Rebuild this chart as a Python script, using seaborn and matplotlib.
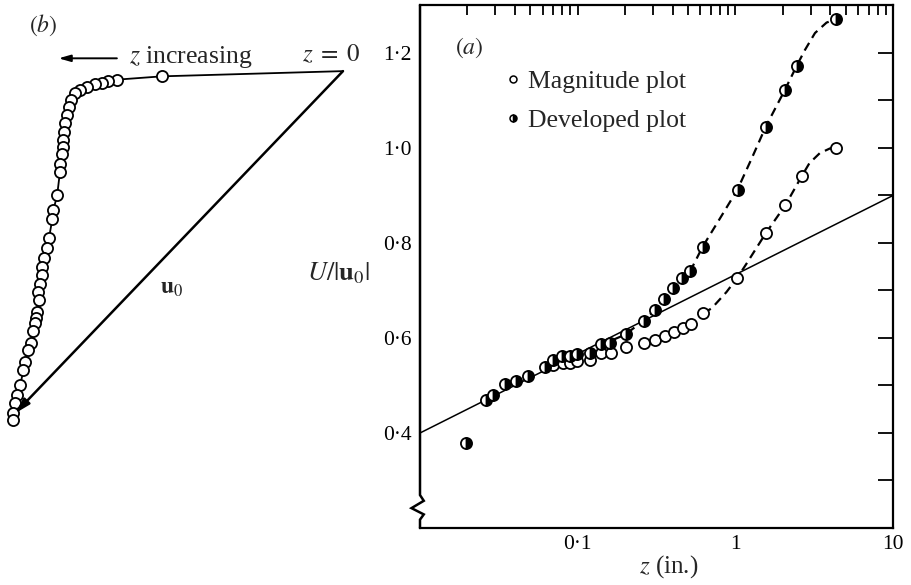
import numpy as np
import pandas as pd
import seaborn as sns
import matplotlib
matplotlib.use("Agg")
import matplotlib.pyplot as plt
from matplotlib.lines import Line2D
from matplotlib.ticker import FixedLocator, FuncFormatter, NullFormatter

# ---------------- data ----------------
# (a) velocity magnitude against height (log scale)
dev_z = [0.0196, 0.0262, 0.0292, 0.0346, 0.0404, 0.0486, 0.0621, 0.070, 0.079, 0.0893,
         0.0986, 0.1197, 0.140, 0.160, 0.202, 0.263, 0.309, 0.352, 0.403, 0.456,
         0.516, 0.621, 1.034, 1.556, 2.063, 2.45, 4.34]
dev_u = [0.378, 0.469, 0.480, 0.503, 0.510, 0.521, 0.538, 0.554, 0.562, 0.562,
         0.566, 0.569, 0.587, 0.589, 0.608, 0.636, 0.659, 0.682, 0.705, 0.726,
         0.742, 0.792, 0.912, 1.045, 1.122, 1.173, 1.271]

mag_z = [0.070, 0.081, 0.089, 0.099, 0.1197, 0.140, 0.162, 0.202, 0.263, 0.309,
         0.357, 0.407, 0.463, 0.523, 0.625, 1.03, 1.556, 2.08, 2.63, 4.34]
mag_u = [0.543, 0.548, 0.547, 0.552, 0.554, 0.569, 0.569, 0.582, 0.590, 0.596,
         0.604, 0.612, 0.620, 0.629, 0.652, 0.727, 0.820, 0.880, 0.940, 1.001]

# hand-drawn trend curves through each set
dev_curve_z = [0.14, 0.20, 0.26, 0.31, 0.35, 0.40, 0.46, 0.52, 0.62, 0.80, 1.03, 1.27,
               1.56, 2.06, 2.45, 2.76, 3.2, 3.79, 4.34]
dev_curve_u = [0.585, 0.607, 0.636, 0.659, 0.682, 0.705, 0.726, 0.742, 0.792, 0.852, 0.912,
               0.978, 1.045, 1.122, 1.173, 1.206, 1.242, 1.264, 1.271]
mag_curve_z = [0.625, 0.708, 0.88, 1.03, 1.18, 1.556, 2.08, 2.63, 2.95, 3.43, 3.98, 4.34]
mag_curve_u = [0.652, 0.6625, 0.697, 0.727, 0.757, 0.820, 0.880, 0.940, 0.968, 0.989, 0.999, 1.001]

# logarithmic law
log_z = [0.01, 10.0]
log_u = [0.40, 0.90]

# (b) hodograph, components in units of |u0|
hod_x = [-0.382, -0.477, -0.495, -0.509, -0.523, -0.539, -0.555, -0.565, -0.574, -0.577,
         -0.583, -0.586, -0.589, -0.590, -0.591, -0.593, -0.596, -0.597, -0.603, -0.611,
         -0.613, -0.620, -0.625, -0.631, -0.634, -0.636, -0.639, -0.643, -0.641, -0.645,
         -0.648, -0.650, -0.653, -0.659, -0.664, -0.671, -0.674, -0.681, -0.688, -0.692,
         -0.697, -0.696]
hod_y = [-0.011, -0.018, -0.020, -0.024, -0.027, -0.033, -0.039, -0.046, -0.060, -0.075,
         -0.093, -0.110, -0.128, -0.146, -0.160, -0.175, -0.195, -0.212, -0.262, -0.293,
         -0.311, -0.351, -0.374, -0.395, -0.413, -0.430, -0.448, -0.466, -0.483, -0.508,
         -0.520, -0.532, -0.548, -0.573, -0.589, -0.613, -0.631, -0.662, -0.684, -0.701,
         -0.722, -0.735]
u0_vec = (-0.692, -0.722)

# ---------------- style ----------------
sns.set_style("white")
plt.rcParams["font.family"] = ["Liberation Serif", "DejaVu Serif"]
plt.rcParams["mathtext.fontset"] = "stix"

fig = plt.figure(figsize=(9.11, 5.85), dpi=100)

# ---------------- panel (a) ----------------
ax = fig.add_axes([420 / 911, 57 / 585, 473 / 911, 523 / 585])

sns.lineplot(x=log_z, y=log_u, color="black", lw=1.1, ax=ax, sort=False, estimator=None)
sns.lineplot(x=dev_curve_z, y=dev_curve_u, color="black", lw=1.6, ax=ax,
             sort=False, estimator=None, linestyle=(0, (4, 2.6)))
sns.lineplot(x=mag_curve_z, y=mag_curve_u, color="black", lw=1.6, ax=ax,
             sort=False, estimator=None, linestyle=(0, (4, 2.6)))

sns.lineplot(x=mag_z, y=mag_u, ax=ax, sort=False, estimator=None, linestyle="",
             marker="o", markersize=8, markerfacecolor="white",
             markeredgecolor="black", markeredgewidth=1.3, color="black")
sns.lineplot(x=dev_z, y=dev_u, ax=ax, sort=False, estimator=None, linestyle="",
             marker="o", markersize=8, fillstyle="right", markerfacecolor="black",
             markerfacecoloralt="white", markeredgecolor="black",
             markeredgewidth=1.3, color="black")

ax.set_xscale("log")
ax.set_xlim(0.01, 10)
ax.set_ylim(0.2, 1.301)

ax.xaxis.set_major_locator(FixedLocator([0.1, 1, 10]))
ax.xaxis.set_major_formatter(FuncFormatter(
    lambda v, p: {0.1: "0\u00b71", 1: "1", 10: "10"}.get(round(v, 3), "")))
minor_x = [m * d for d in (0.01, 0.1, 1) for m in range(2, 10)]
ax.xaxis.set_minor_locator(FixedLocator(minor_x))
ax.xaxis.set_minor_formatter(NullFormatter())

ax.yaxis.set_major_locator(FixedLocator([0.4, 0.6, 0.8, 1.0, 1.2]))
ax.yaxis.set_major_formatter(FuncFormatter(lambda v, p: f"{v:.1f}".replace(".", "\u00b7")))
ax.yaxis.set_minor_locator(FixedLocator([0.3, 0.5, 0.7, 0.9, 1.1]))

ax.tick_params(which="both", direction="in", top=True, right=True, color="black",
               width=1.3, labelsize=15.5, labelcolor="black")
ax.tick_params(axis="x", which="both", length=7, pad=5)
ax.tick_params(axis="y", which="both", length=11, pad=6)

for side in ("top", "right", "bottom"):
    ax.spines[side].set_linewidth(1.6)
    ax.spines[side].set_color("black")
ax.spines["left"].set_visible(False)
# left axis line with a break symbol near its foot
ax.plot([0, 0, 0.008, -0.018, 0.008, 0, 0], [1, 0.063, 0.052, 0.038, 0.026, 0.016, 0],
        transform=ax.transAxes, color="black", lw=1.8, clip_on=False,
        solid_joinstyle="miter")

ax.text(0.074, 0.918, r"$(a)$", transform=ax.transAxes, fontsize=17, va="center")

handles = [
    Line2D([], [], linestyle="", marker="o", markersize=5, markerfacecolor="white",
           markeredgecolor="black", markeredgewidth=1.1),
    Line2D([], [], linestyle="", marker="o", markersize=5, fillstyle="right",
           markerfacecolor="black", markerfacecoloralt="white",
           markeredgecolor="black", markeredgewidth=1.1),
]
ax.legend(handles, ["Magnitude plot", "Developed plot"], loc="upper left",
          bbox_to_anchor=(0.18, 0.876), frameon=False, fontsize=18.5,
          handlelength=0.6, handletextpad=0.3, labelspacing=0.62,
          borderpad=0, borderaxespad=0)

fig.text(669 / 911, 1 - 567 / 585, r"$z$ (in.)", fontsize=18, ha="center", va="center")
fig.text(338 / 911, 1 - 273 / 585, r"$U/|\mathbf{u}_0|$", fontsize=19,
         ha="center", va="center")

# ---------------- panel (b) ----------------
bx = fig.add_axes([5 / 911, 145 / 585, 370 / 911, 440 / 585])
bx.set_xlim(-0.713, 0.0675)
bx.set_ylim(-0.778, 0.150)
bx.axis("off")

sns.lineplot(x=[0.0] + hod_x, y=[0.0] + hod_y, color="black", lw=1.3, ax=bx,
             sort=False, estimator=None)
sns.lineplot(x=hod_x, y=hod_y, ax=bx, sort=False, estimator=None, linestyle="",
             marker="o", markersize=8, markerfacecolor="white",
             markeredgecolor="black", markeredgewidth=1.3, color="black")

bx.annotate("", xy=u0_vec, xytext=(0, 0),
            arrowprops=dict(arrowstyle="-|>,head_length=0.9,head_width=0.25",
                            color="black", lw=1.8, shrinkA=0, shrinkB=0))
bx.text(-0.361, -0.458, r"$\mathbf{u}_0$", fontsize=17, ha="center", va="center")

bx.annotate("", xy=(-0.600, 0.027), xytext=(-0.477, 0.027),
            arrowprops=dict(arrowstyle="-|>,head_length=0.7,head_width=0.2",
                            color="black", lw=1.4, shrinkA=0, shrinkB=0))
bx.text(-0.452, 0.030, r"$z$ increasing", fontsize=18.5, ha="left", va="center")
bx.text(-0.025, 0.034, r"$z\;=\;0$", fontsize=18, ha="center", va="center")
bx.text(-0.633, 0.097, r"$(b)$", fontsize=17, ha="center", va="center")

fig.savefig("out.png", dpi=100)
